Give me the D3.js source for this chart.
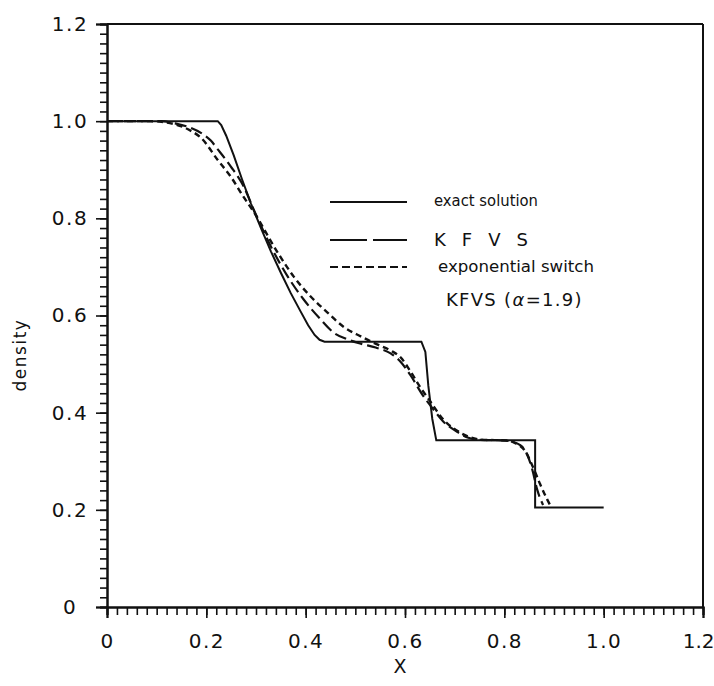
<!DOCTYPE html>
<html>
<head>
	<meta charset="UTF-8">
	<title>density</title>
	<script src="https://d3js.org/d3.v7.min.js"></script>
	<style>
		body { margin: 0; background: #fff; }
		text { font-family: "DejaVu Sans", sans-serif; fill: #111; }
	</style>
</head>
<body>
	<div id="chart"></div>

	<script>
		let xTicks = [0, 0.2, 0.4, 0.6, 0.8, 1.0, 1.2];
		let yTicks = [0, 0.2, 0.4, 0.6, 0.8, 1.0, 1.2];
		let minorStep = 0.02;

		// exact solution
		let exactX = [0, 0.223, 0.230, 0.240, 0.255, 0.272, 0.290, 0.310, 0.330, 0.350, 0.370, 0.390, 0.405, 0.418, 0.428, 0.438, 0.633, 0.641, 0.647, 0.655, 0.663, 0.862, 0.862, 1.0];
		let exactY = [1.0, 1.0, 0.992, 0.970, 0.930, 0.880, 0.830, 0.780, 0.732, 0.688, 0.646, 0.608, 0.580, 0.560, 0.550, 0.546, 0.546, 0.525, 0.455, 0.387, 0.343, 0.343, 0.205, 0.205];

		// KFVS
		let kfvsX = [0, 0.109, 0.139, 0.169, 0.189, 0.209, 0.223, 0.249, 0.275, 0.295, 0.330, 0.364, 0.396, 0.430, 0.456, 0.484, 0.511, 0.541, 0.571, 0.591, 0.611, 0.637, 0.657, 0.677, 0.706, 0.726, 0.752, 0.792, 0.812, 0.832, 0.846, 0.856, 0.866, 0.878];
		let kfvsY = [1.0, 1.0, 0.995, 0.986, 0.976, 0.960, 0.942, 0.907, 0.866, 0.819, 0.742, 0.680, 0.633, 0.592, 0.565, 0.551, 0.542, 0.534, 0.522, 0.505, 0.477, 0.434, 0.407, 0.382, 0.360, 0.349, 0.344, 0.343, 0.341, 0.333, 0.314, 0.284, 0.242, 0.210];

		// exponential switch KFVS (alpha = 1.9)
		let expX = [0, 0.088, 0.135, 0.169, 0.189, 0.223, 0.249, 0.275, 0.295, 0.344, 0.376, 0.410, 0.444, 0.476, 0.511, 0.545, 0.571, 0.591, 0.611, 0.631, 0.651, 0.677, 0.706, 0.732, 0.762, 0.802, 0.822, 0.842, 0.856, 0.872, 0.886, 0.892];
		let expY = [1.0, 1.0, 0.994, 0.980, 0.966, 0.920, 0.886, 0.844, 0.814, 0.729, 0.680, 0.639, 0.606, 0.577, 0.557, 0.540, 0.528, 0.514, 0.485, 0.452, 0.423, 0.386, 0.362, 0.349, 0.344, 0.343, 0.337, 0.321, 0.292, 0.253, 0.222, 0.210];

		let legendLabels = ["exact solution", "K F V S", "exponential switch"];

		let width = 714;
		let height = 686;
		let svg = d3.select("#chart").append("svg")
			.attr("width", width)
			.attr("height", height);

		let x = d3.scaleLinear().domain([0, 1.2]).range([107, 703]);
		let y = d3.scaleLinear().domain([0, 1.2]).range([607, 24]);

		let fmt = d => d === 0 ? "0" : d3.format(".1f")(d);
		let minorTicks = d3.range(0, 1.2 + 1e-9, minorStep);

		// x axis
		let gx = svg.append("g").attr("transform", `translate(0,${y(0)})`);
		gx.append("g").call(d3.axisBottom(x).tickValues(minorTicks).tickSize(8).tickFormat(""));
		gx.append("g").call(d3.axisBottom(x).tickValues(xTicks).tickSize(11).tickPadding(16).tickFormat(fmt));

		// y axis
		let gy = svg.append("g").attr("transform", `translate(${x(0)},0)`);
		gy.append("g").call(d3.axisLeft(y).tickValues(minorTicks).tickSize(7).tickFormat(""));
		gy.append("g").call(d3.axisLeft(y).tickValues(yTicks).tickSize(11).tickFormat(fmt));

		svg.selectAll(".domain").attr("stroke", "#111").attr("stroke-width", 2);
		svg.selectAll(".tick line").attr("stroke", "#111").attr("stroke-width", 1.6);
		gx.selectAll(".tick text")
			.attr("font-size", 20)
			.attr("letter-spacing", 1.5)
			.attr("font-family", "DejaVu Sans");
		// last label sits at the window edge
		gx.selectAll(".tick text").filter(d => d === 1.2)
			.attr("letter-spacing", 0)
			.attr("text-anchor", "end")
			.attr("dx", 11);
		gy.selectAll(".tick text")
			.attr("font-size", 20)
			.attr("letter-spacing", 1.5)
			.attr("font-family", "DejaVu Sans")
			.attr("text-anchor", "middle")
			.attr("x", -37);

		// frame top and right
		svg.append("line")
			.attr("x1", x(0)).attr("y1", y(1.2))
			.attr("x2", x(1.2)).attr("y2", y(1.2))
			.attr("stroke", "#111").attr("stroke-width", 2);
		svg.append("line")
			.attr("x1", x(1.2)).attr("y1", y(1.2))
			.attr("x2", x(1.2)).attr("y2", y(0))
			.attr("stroke", "#111").attr("stroke-width", 2);

		// axis titles
		svg.append("text")
			.attr("x", 400).attr("y", 673)
			.attr("text-anchor", "middle")
			.attr("font-size", 19)
			.text("X");
		svg.append("text")
			.attr("transform", "translate(26,355) rotate(-90)")
			.attr("text-anchor", "middle")
			.attr("font-size", 17)
			.attr("letter-spacing", 1.5)
			.text("density");

		// curves
		let series = [
			{ xs: exactX, ys: exactY, dash: null, width: 2, curve: d3.curveLinear },
			{ xs: kfvsX, ys: kfvsY, dash: "12,5", width: 2.2, curve: d3.curveMonotoneX },
			{ xs: expX, ys: expY, dash: "6,4", width: 2.4, curve: d3.curveMonotoneX }
		];

		series.forEach(s => {
			let line = d3.line()
				.x(d => x(d[0]))
				.y(d => y(d[1]))
				.curve(s.curve);
			svg.append("path")
				.datum(s.xs.map((v, i) => [v, s.ys[i]]))
				.attr("d", line)
				.attr("fill", "none")
				.attr("stroke", "#111")
				.attr("stroke-width", s.width)
				.attr("stroke-dasharray", s.dash);
		});

		// legend
		let legendRows = [202, 240, 267];
		let legendDash = [null, "37,6", "8,4"];
		let legendText = [
			{ x: 434, y: 206, size: 15.5, len: 104, adjust: "spacingAndGlyphs" },
			{ x: 434, y: 246, size: 18, len: 94, adjust: "spacing" },
			{ x: 438, y: 272, size: 15, len: 156, adjust: "spacingAndGlyphs" }
		];
		legendLabels.forEach((label, i) => {
			svg.append("line")
				.attr("x1", 330).attr("x2", 407)
				.attr("y1", legendRows[i]).attr("y2", legendRows[i])
				.attr("stroke", "#111")
				.attr("stroke-width", 2)
				.attr("stroke-dasharray", legendDash[i]);
			svg.append("text")
				.attr("x", legendText[i].x).attr("y", legendText[i].y)
				.attr("font-size", legendText[i].size)
				.attr("textLength", legendText[i].len)
				.attr("lengthAdjust", legendText[i].adjust)
				.text(label);
		});
		let alphaLabel = svg.append("text")
			.attr("x", 446).attr("y", 306)
			.attr("font-size", 18)
			.attr("letter-spacing", 1.3);
		alphaLabel.append("tspan").text("KFVS (");
		alphaLabel.append("tspan").attr("font-style", "italic").text("α");
		alphaLabel.append("tspan").text("=1.9)");
	</script>
</body>
</html>
